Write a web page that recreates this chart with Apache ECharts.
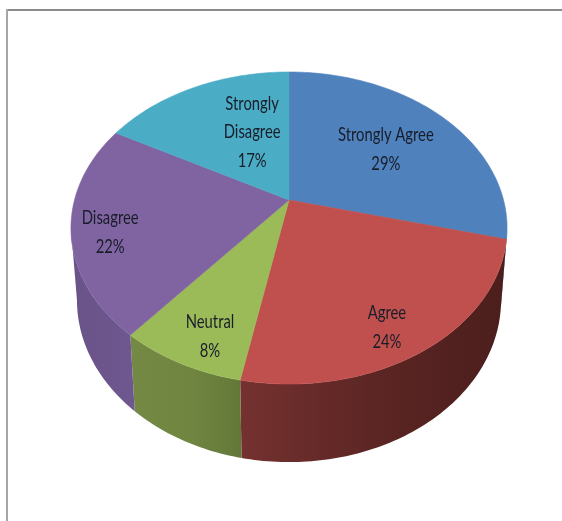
<!DOCTYPE html>
<html>
<head>
<meta charset="utf-8">
<style>html,body{margin:0;padding:0;background:#fff}#c{width:562px;height:521px}</style>
<script src="https://cdn.jsdelivr.net/npm/echarts@6/dist/echarts.min.js"></script>
</head>
<body>
<div id="c"></div>
<script>
const categories = ['Strongly Agree', 'Agree', 'Neutral', 'Disagree', 'Strongly\nDisagree'];
const values = [29, 24, 8, 22, 17];
const topColors = ['#4f81bd', '#c0504d', '#9bbb59', '#8064a2', '#4bacc6'];
const wallStops = [
  ['#3a5f8c', '#3a5f8c', '#3a5f8c'],
  ['#74312f', '#5a2523', '#4b1e1c'],
  ['#748a44', '#708540', '#637838'],
  ['#6a5388', '#6c558b', '#6f5890'],
  ['#38808f', '#38808f', '#38808f']
];
// label placement in the pie's own polar terms: radius fraction, angle shift (deg)
const labelRadius = [0.605, 0.827, 0.833, 0.828, 0.532];
const labelShift = [0.5, 3.7, -2.8, -3, 10];

// projective camera for top and bottom discs
const K = -0.1795;
const topDisc = { cx: 289, cy: 200, a: 214.5, b: 151 };
const botDisc = { cx: 289, cy: 271, a: 208.6, b: 156.8 };
// silhouette tangent angles of the projected disc
const horizon = Math.acos(K) * 180 / Math.PI;
const wallMin = horizon, wallMax = 360 - horizon;

const total = values.reduce((s, v) => s + v, 0);
const starts = values.map((_, i) => values.slice(0, i).reduce((s, v) => s + v, 0) / total * 360);
const ends = values.map((v, i) => starts[i] + v / total * 360);

function project(disc, deg, r) {
  const t = deg * Math.PI / 180, u = r * Math.sin(t), v = -r * Math.cos(t), d = 1 + K * v;
  return [disc.cx + disc.a * u / d, disc.cy + disc.b * v / d];
}
function arc(disc, a0, a1) {
  const pts = [], n = Math.max(2, Math.ceil(Math.abs(a1 - a0)));
  for (let i = 0; i <= n; i++) pts.push(project(disc, a0 + (a1 - a0) * i / n, 1));
  return pts;
}
const rows = values.map((v, i) => [v, categories[i]]);

function renderWall(params, api) {
  const i = params.dataIndex;
  const a0 = Math.max(starts[i], wallMin), a1 = Math.min(ends[i], wallMax);
  if (a1 <= a0) return { type: 'group', children: [] };
  const pts = arc(topDisc, a0, a1).concat(arc(botDisc, a1, a0));
  const s = wallStops[i];
  return {
    type: 'polygon',
    shape: { points: pts },
    style: {
      fill: new echarts.graphic.LinearGradient(0, 0, 1, 0, [
        { offset: 0, color: s[0] }, { offset: 0.55, color: s[1] }, { offset: 1, color: s[2] }
      ])
    }
  };
}
function renderTop(params, api) {
  const i = params.dataIndex;
  const pts = [project(topDisc, 0, 0)].concat(arc(topDisc, starts[i], ends[i]));
  return {
    type: 'polygon',
    shape: { points: pts },
    style: { fill: topColors[i], stroke: topColors[i], lineWidth: 0.6 }
  };
}
function renderLabel(params, api) {
  const i = params.dataIndex;
  const p = project(topDisc, (starts[i] + ends[i]) / 2 + labelShift[i], labelRadius[i]);
  return {
    type: 'text',
    x: p[0], y: p[1] + 1, scaleX: 0.74,
    style: {
      x: 0, y: 0,
      text: categories[i] + '\n' + api.value(0) + '%',
      align: 'center', verticalAlign: 'middle',
      fontFamily: 'Lato, "Liberation Sans", sans-serif',
      fontSize: 20, lineHeight: 28.5, fill: '#191d2a'
    }
  };
}
const chart = echarts.init(document.getElementById('c'), null, { renderer: 'canvas' });
chart.setOption({
  animation: false,
  backgroundColor: '#ffffff',
  graphic: [
    { type: 'rect', shape: { x: 6, y: 9, width: 556, height: 2 }, style: { fill: '#8c8c8c' }, silent: true },
    { type: 'rect', shape: { x: 6, y: 9, width: 2, height: 512 }, style: { fill: '#a6a6a6' }, silent: true }
  ],
  series: [
    { type: 'custom', coordinateSystem: 'none', silent: true, data: rows, renderItem: renderWall, z: 1 },
    { type: 'custom', coordinateSystem: 'none', silent: true, data: rows, renderItem: renderTop, z: 2 },
    { type: 'custom', coordinateSystem: 'none', silent: true, data: rows, renderItem: renderLabel, z: 3 }
  ]
});
</script>
</body>
</html>
